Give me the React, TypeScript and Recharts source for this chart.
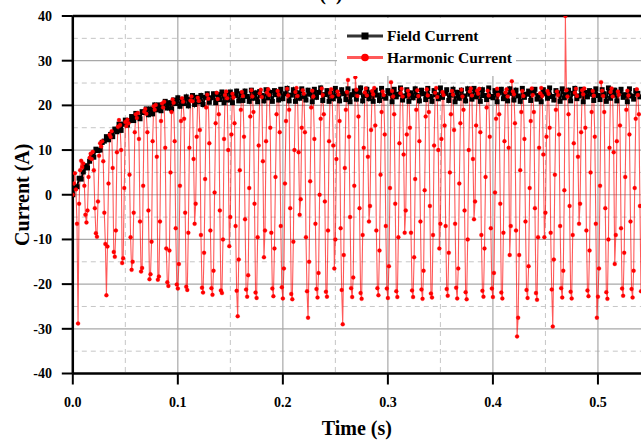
import { LineChart, Line, XAxis, YAxis, CartesianGrid, ReferenceLine } from "recharts";

// sample spacing of the two recordings (s)
const fieldStep = 0.002;
const harmonicStep = 0.001;

const fieldCurrent = [
  0, 1.5, 1.8, 3.7, 3.5, 5.1, 6.5, 6.0, 7.5, 8.6,
  8.4, 10.2, 9.9, 10.0, 11.7, 12.0, 13.0, 12.3, 13.5, 13.0,
  14.7, 14.1, 15.8, 14.4, 15.8, 16.7, 15.6, 16.6, 17.5, 16.6,
  18.2, 17.4, 17.0, 18.6, 18.4, 19.2, 17.9, 19.2, 18.1, 20.1,
  19.0, 20.1, 18.8, 20.0, 20.9, 19.4, 20.6, 19.2, 21.2, 20.4,
  21.7, 19.8, 21.2, 20.4, 21.9, 19.9, 21.3, 22.2, 20.2, 21.8,
  20.8, 22.2, 20.2, 21.8, 22.6, 20.7, 21.7, 22.6, 20.6, 22.4,
  21.3, 23.0, 20.6, 22.3, 21.2, 23.0, 20.6, 22.2, 23.2, 21.0, 22.6,
  21.1, 23.2, 22.0, 20.9, 23.4, 21.6, 22.8, 20.8, 23.1, 22.2,
  21.0, 23.5, 21.7, 22.9, 20.9, 23.3, 22.4, 21.2, 23.6, 21.5,
  22.6, 23.8, 21.0, 22.3, 23.5, 20.9, 22.8, 21.6, 23.7, 22.0,
  21.2, 23.4, 22.5, 20.8, 23.6, 21.8, 22.9, 23.9, 21.1, 22.4,
  23.3, 20.9, 22.7, 21.5, 23.8, 22.1, 21.0, 23.5, 22.6, 21.3,
  23.7, 20.8, 22.4, 23.2, 21.4, 22.9, 23.9, 21.0, 22.2, 23.6,
  21.5, 22.8, 20.9, 23.4, 22.3, 21.1, 23.8, 22.0, 21.6, 23.3,
  22.7, 20.8, 23.6, 21.9, 22.5, 23.9, 21.2, 22.1, 23.5, 20.9,
  22.8, 21.7, 23.7, 22.2, 21.0, 23.4, 22.6, 21.3, 23.8, 22.0,
  20.9, 23.3, 22.4, 21.5, 23.9, 21.8, 22.7, 23.5, 21.1, 22.3,
  23.6, 20.8, 22.9, 21.6, 23.4, 22.1, 21.0, 23.7, 22.5, 21.4,
  23.8, 21.9, 22.6, 20.9, 23.5, 22.2, 21.3, 23.9, 22.0, 21.7,
  23.3, 20.8, 22.8, 23.6, 21.5, 22.4, 21.0, 23.7, 22.7, 21.2,
  23.4, 22.1, 20.9, 23.8, 21.8, 22.5, 23.2, 21.1, 22.9, 23.6,
  21.4, 22.2, 20.8, 23.5, 22.6, 21.6, 23.9, 22.0, 21.2, 23.3,
  22.8, 20.9, 23.7, 21.7, 22.4, 23.4, 21.0, 22.7, 23.8, 21.5,
  22.1, 23.6, 20.8, 22.9, 21.9, 23.3, 22.5, 21.1, 23.7, 22.2,
  21.3, 23.5, 22.6, 20.9, 23.9, 21.6, 22.3, 23.4, 21.0, 22.8,
  23.6, 21.8, 22.4, 20.8, 23.7, 22.1, 21.4, 23.3, 22.7, 21.9,
];

const harmonicCurrent = [
  // start-up
  0, 2.5, 4.8, 1.2, -6.5, -28.8, -2.0, 5.5, 7.6, 6.2,
  7.0, 2.0, -4.5, -6.2, -3.5, 4.0, 8.3, 9.2, 8.0, 9.6,
  5.5, -3.0, -8.6, -9.4, -1.5, 8.7, 11.5, 10.8, 12.0, 7.5,
  -4.0, -11.0, -22.5, -11.6, 2.5, 13.4, 12.9, 14.2, 6.0, -12.8,
  -13.9, -8.0, 9.5, 15.2, 16.7, 15.6, 10.0, -15.3, -14.2, 1.5,
  16.3, 15.4, 16.8, 16.0, 4.5, -9.5, -16.8, -15.0, -4.0, 14.0,
  18.0, 17.2, 18.3, 12.5, -6.0, -17.2, -16.4, 2.0, 18.6, 19.2,
  18.1, 14.0, -3.5, -18.9, -17.8, -10.5, 12.0, 19.8, 19.0, 20.1,
  8.5, -19.0, -18.3, -6.0, 16.5, 20.4, 19.5, 20.8, 10.5, -12.0,
  // 0.090 s
  -19.6, -20.4, -12.5, 5.0, 18.5, 21.3, 20.6, 12.0, -7.5, -20.1, -21.0, -15.5, 2.0, 16.5, 21.6, 20.8, 17.0,
  -4.0, -20.6, -21.3, -8.5, 10.5, 21.1, 22.0, 20.9, 8.0, -6.5, -2.0, 13.0, 21.7, 21.0, 14.5, -9.0,
  // 0.123 s
  -20.8, -21.9, -13.0, 3.5, 19.5, 22.4, 21.5, 11.5, -8.0, -20.9, -22.4, -17.0, 0.5, 16.0, 22.8, 21.4, 18.0,
  -3.5, -21.4, -22.0, -10.0, 12.5, 22.3, 23.1, 21.6, 10.0, -11.5, -5.0, 13.5, 22.6, 21.8, 16.0, -7.0,
  // 0.156 s
  -21.5, -27.2, -14.5, 5.5, 19.0, 23.0, 22.1, 13.0, -5.5, -21.2, -22.8, -18.0, 1.5, 17.5, 23.4, 22.0, 18.5,
  -2.0, -21.9, -23.1, -9.5, 11.0, 22.7, 23.5, 21.9, 7.5, -14.0, -8.0, 12.0, 22.9, 23.6, 22.3, 15.0, -8.5,
  // 0.190 s
  -21.0, -22.7, -12.0, 4.0, 18.0, 23.2, 22.4, 14.0, -7.0, -20.7, -23.2, -16.5, 2.5, 16.5, 23.7, 22.2, 19.0,
  -3.0, -22.2, -23.4, -10.5, 10.0, 23.0, 23.9, 22.1, 9.5, -4.5, -1.0, 15.0, 23.4, 22.6, 14.0, -9.5,
  // 0.223 s
  -21.6, -27.5, -15.0, 3.0, 19.5, 23.3, 22.0, 12.5, -6.5, -21.1, -23.0, -17.5, 0.0, 17.0, 23.8, 22.3, 18.0,
  -1.5, -21.7, -22.8, -8.0, 12.0, 22.8, 23.6, 22.0, 11.0, -16.5, -10.0, 8.0, 23.1, 22.4, 16.5, -7.5,
  // 0.256 s
  -21.3, -29.0, -13.5, 6.0, 19.0, 23.0, 25.7, 13.0, -5.0, -20.9, -22.9, -18.5, 2.0, 26.3, 23.5, 22.1, 17.5,
  -3.0, -22.0, -23.3, -9.0, 10.5, 22.9, 23.8, 22.2, 8.5, -6.0, -2.5, 14.5, 23.2, 22.5, 23.9, 15.5, -8.0,
  // 0.290 s
  -20.9, -22.5, -12.5, 4.5, 18.5, 23.1, 22.3, 13.5, -7.0, -21.0, -23.1, -16.0, 1.5, 25.2, 23.2, 22.0, 18.0,
  -2.0, -21.6, -22.9, -9.5, 11.5, 22.7, 23.7, 22.0, 9.0, -8.5, -3.5, 13.5, 23.3, 22.4, 15.0, -8.5,
  // 0.323 s
  -21.4, -22.9, -14.0, 3.5, 19.0, 23.4, 22.1, 12.0, -6.0, -21.2, -23.3, -17.0, 1.0, 17.5, 23.6, 22.2, 18.5,
  -2.5, -22.1, -23.0, -9.0, 11.0, 22.8, 23.9, 21.9, 10.0, -12.0, -6.5, 12.5, 23.0, 22.3, 15.5, -7.0,
  // 0.356 s
  -21.1, -22.6, -13.0, 5.0, 18.0, 23.2, 22.4, 14.5, -6.5, -20.8, -23.2, -16.5, 2.5, 16.0, 23.5, 22.0, 19.0,
  -3.5, -21.8, -23.4, -10.0, 10.0, 23.1, 23.8, 22.2, 8.0, -5.5, -1.5, 15.5, 23.3, 22.6, 23.7, 14.0, -9.0,
  // 0.390 s
  -21.5, -22.8, -12.0, 4.0, 19.5, 23.3, 22.2, 13.0, -7.5, -21.0, -22.9, -17.5, 0.5, 17.0, 23.7, 22.4, 18.0,
  -2.0, -21.9, -23.2, -8.5, 12.0, 22.9, 23.6, 22.0, 10.5, -13.5, -7.0, 25.4, 23.1, 22.5, 16.0, -8.0,
  // 0.423 s
  -31.7, -27.5, -13.5, 5.5, 18.5, 23.2, 22.1, 12.5, -6.0, -21.3, -23.1, -16.0, 1.5, 16.5, 23.8, 22.3, 18.5,
  -3.0, -22.0, -23.5, -9.5, 10.5, 22.7, 23.9, 22.1, 9.0, -9.5, -4.0, 13.0, 23.2, 22.6, 15.0, -8.5,
  // 0.456 s
  -21.2, -29.5, -14.5, 4.5, 19.0, 23.1, 22.3, 13.5, -7.0, -20.9, -23.0, -17.0, 1.0, 40.0, 23.4, 22.0, 18.0,
  -2.5, -21.7, -23.2, -9.0, 11.5, 22.8, 23.7, 22.1, 8.5, -6.5, -2.0, 14.0, 23.4, 22.5, 23.8, 15.0, -8.0,
  // 0.490 s
  -21.4, -22.7, -12.5, 5.0, 18.5, 23.2, 22.2, 13.0, -6.5, -27.5, -22.8, -16.5, 2.0, 25.2, 23.3, 22.1, 18.5,
  -3.0, -21.8, -23.3, -10.0, 10.5, 23.0, 23.8, 22.0, 9.5, -15.5, -9.0, 12.0, 23.1, 22.4, 15.5, -7.5,
  // 0.523 s
  -21.0, -22.6, -13.0, 4.0, 19.0, 23.3, 22.2, 13.5, -6.0, -21.1, -23.0, -17.0, 1.5, 17.0, 23.6, 22.3, 18.0,
  -2.5, -21.6,
];

const xTicks = [0, 0.1, 0.2, 0.3, 0.4, 0.5];
const yTicks = [-40, -30, -20, -10, 0, 10, 20, 30, 40];
const xMajor = [0.1, 0.2, 0.3, 0.4, 0.5];
const yMajor = [-30, -20, -10, 0, 10, 20, 30];
const xMinor = [0.05, 0.15, 0.25, 0.35, 0.45];
const yMinor = [-35, -25, -15, -5, 5, 15, 25, 35];

const fieldRows = fieldCurrent.map((v, i) => ({ t: +(i * fieldStep).toFixed(3), v }));
const harmonicRows = harmonicCurrent.map((v, i) => ({ t: +(i * harmonicStep).toFixed(3), v }));

const serif = '"Liberation Serif", "Times New Roman", serif';
const tickStyle = { fill: "#000", fontSize: 14, fontWeight: 700, fontFamily: serif };
const titleStyle = { fill: "#000", fontSize: 20, fontWeight: 700, fontFamily: serif, textAnchor: "middle" as const };

function SquareDot(props: any) {
  const { cx, cy, index } = props;
  if (cx == null || cy == null) return <g key={`sq-${index}`} />;
  return <rect key={`sq-${index}`} x={cx - 2.5} y={cy - 2.5} width={5} height={5} fill="#000" />;
}

function ChartLegend() {
  return (
    <svg
      width={179}
      height={58}
      style={{ position: "absolute", left: 337, top: 17.5, background: "#fff" }}
    >
      <line x1={10} y1={18} x2={46} y2={18} stroke="#333" strokeWidth={3} />
      <rect x={24.5} y={14.5} width={7} height={7} fill="#000" />
      <text x={50} y={23} fontFamily={serif} fontWeight={700} fontSize={15.5} fill="#000">
        Field Current
      </text>
      <line x1={10} y1={39.5} x2={46} y2={39.5} stroke="#ff3030" strokeOpacity={0.8} strokeWidth={3} />
      <circle cx={28} cy={39.5} r={3.8} fill="#ff0000" />
      <text x={50} y={44.6} fontFamily={serif} fontWeight={700} fontSize={15.5} fill="#000">
        Harmonic Current
      </text>
    </svg>
  );
}

export default function App() {
  return (
    <div
      style={{
        position: "absolute",
        left: 0,
        top: 0,
        width: 641,
        height: 443,
        overflow: "hidden",
        background: "#fff",
        fontFamily: serif,
      }}
    >
      <div
        style={{
          position: "absolute",
          left: 311,
          top: -17,
          width: 40,
          textAlign: "center",
          fontSize: 20,
          lineHeight: "20px",
          fontWeight: 700,
        }}
      >
        (a)
      </div>
      <LineChart width={641} height={443} margin={{ top: 16, right: 0, bottom: 39.5, left: 0 }}>
        <CartesianGrid
          horizontalValues={yMinor}
          verticalValues={xMinor}
          stroke="#c6c6c6"
          strokeDasharray="5 4"
        />
        <CartesianGrid horizontalValues={yMajor} verticalValues={xMajor} stroke="#a8a8a8" strokeWidth={1.2} />
        <XAxis
          type="number"
          dataKey="t"
          domain={[0, 0.541]}
          allowDataOverflow
          ticks={xTicks}
          interval={0}
          tickFormatter={(v: number) => v.toFixed(1)}
          tick={tickStyle}
          tickSize={11}
          tickMargin={13}
          height={30}
          axisLine={{ stroke: "#000", strokeWidth: 2.5 }}
          tickLine={{ stroke: "#000", strokeWidth: 2 }}
          label={{ value: "Time (s)", position: "bottom", offset: 17, style: titleStyle }}
        />
        <YAxis
          type="number"
          domain={[-40, 40]}
          allowDataOverflow
          ticks={yTicks}
          interval={0}
          tick={tickStyle}
          tickSize={11}
          tickMargin={9.8}
          width={72.8}
          axisLine={{ stroke: "#000", strokeWidth: 2.5 }}
          tickLine={{ stroke: "#000", strokeWidth: 2 }}
          label={{ value: "Current (A)", angle: -90, position: "insideLeft", offset: 22, style: titleStyle }}
        />
        <ReferenceLine y={40} stroke="#000" strokeWidth={2.5} />
        <Line
          data={fieldRows}
          dataKey="v"
          type="linear"
          stroke="#000"
          strokeWidth={2}
          dot={SquareDot}
          activeDot={false}
          isAnimationActive={false}
        />
        <Line
          data={harmonicRows}
          dataKey="v"
          type="linear"
          stroke="#ff0000"
          strokeOpacity={0.65}
          strokeWidth={1.1}
          dot={{ r: 2, fill: "#ff0000", stroke: "#ff0000", strokeWidth: 0.4 }}
          activeDot={false}
          isAnimationActive={false}
        />
      </LineChart>
      <ChartLegend />
    </div>
  );
}
